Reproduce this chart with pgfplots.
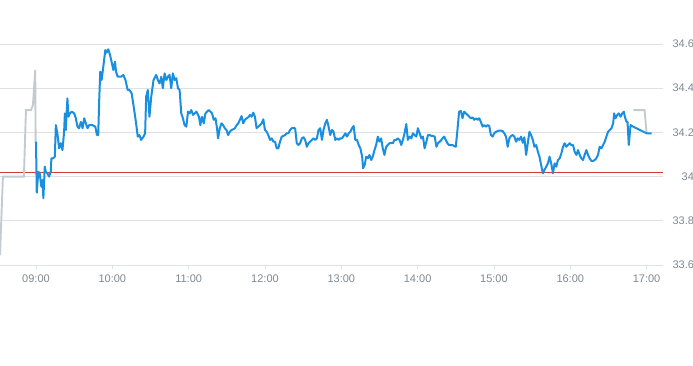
\documentclass[border=0pt]{standalone}
\usepackage{fontspec}
\setmainfont{Liberation Sans}
\usepackage{pgfplots}
\pgfplotsset{compat=1.18}
\definecolor{lineblue}{HTML}{1A8FE0}
\definecolor{linegray}{HTML}{C3CBD0}
\definecolor{refred}{HTML}{D63B3B}
\definecolor{gridc}{HTML}{DDE1E5}
\definecolor{labc}{HTML}{7F8891}
\begin{document}
\begin{tikzpicture}
\useasboundingbox (0pt,-100pt) rectangle (693pt,265pt);
\begin{axis}[
  at={(0pt,0pt)}, anchor=south west,
  scale only axis, width=663pt, height=221pt,
  xmin=-28.3, xmax=492.9, ymin=33.6, ymax=34.6,
  xtick={0,60,120,180,240,300,360,420,480},
  xticklabels={09:00,10:00,11:00,12:00,13:00,14:00,15:00,16:00,17:00},
  ytick={33.6,33.8,34,34.2,34.4,34.6},
  yticklabels={33.6,33.8,34,34.2,34.4,34.6},
  yticklabel pos=right,
  xtick pos=bottom,
  ymajorgrids, grid style={gridc, line width=0.8pt},
  axis line style={draw=none},
  tick align=outside, major tick length=3.5pt,
  xtick style={gridc, line width=0.8pt},
  ytick style={draw=none},
  /pgf/number format/assume math mode=true,
  tick label style={font=\fontsize{11}{13}\selectfont, text=labc},
  xticklabel style={yshift=-3pt},
  yticklabel style={anchor=east, xshift=31pt},
  clip=false,
]
\addplot[refred, line width=0.9pt] coordinates {(-28.3,34.02) (492.9,34.02)};
\addplot[linegray, line width=1.9pt] coordinates {
(-28.3,33.645) (-26.0,34.0) (-9.5,34.0) (-7.9,34.301) (-3.9,34.301) (-2.4,34.324) (-0.6,34.482) (-0.3,34.158) (0,34.158)
};
\addplot[linegray, line width=1.9pt] coordinates {
(469.7,34.301) (478.4,34.301) (480.0,34.197)
};
\addplot[lineblue, line width=2pt, line join=round] coordinates {
(0,34.158) (0.6,33.927) (1.8,34.022) (2.9,34.015) (4.2,33.954) (5.0,33.985) (5.8,33.902) (6.9,34.045) (7.7,34.022) (8.9,34.015)
(10.3,34.000) (11.6,34.022) (12.1,34.083) (13.4,34.083) (14.8,34.090) (15.6,34.233) (16.8,34.196) (18.2,34.128) (19.5,34.151) (20.8,34.120)
(22.1,34.203) (22.7,34.286) (23.4,34.211) (24.7,34.354) (25.5,34.271) (26.6,34.286) (28.2,34.294) (30.0,34.286) (31.3,34.264) (32.6,34.226)
(33.9,34.219) (35.3,34.248) (36.6,34.219) (37.9,34.264) (39.2,34.241) (40.5,34.219) (41.8,34.233) (44.4,34.233) (46.6,34.226) (47.9,34.188)
(48.9,34.188) (49.7,34.347) (50.5,34.475) (51.6,34.437) (52.9,34.497) (54.5,34.573) (55.5,34.561) (56.8,34.576) (58.2,34.550) (59.4,34.520)
(60.8,34.482) (62.1,34.520) (62.9,34.475) (64.2,34.452) (66.9,34.452) (68.7,34.460) (70.3,34.437) (72.1,34.392) (73.4,34.392) (75.2,34.377)
(76.8,34.316) (78.7,34.241) (80.0,34.181) (81.3,34.188) (82.6,34.166) (84.5,34.181) (85.8,34.196) (86.6,34.362) (87.9,34.392) (89.2,34.271)
(90.6,34.362) (92.4,34.437) (94.5,34.460) (95.8,34.437) (97.1,34.422) (98.5,34.452) (99.7,34.400) (101.1,34.467) (102.4,34.437) (103.7,34.452)
(105.0,34.460) (106.3,34.400) (107.6,34.467) (109.0,34.437) (110.3,34.445) (111.6,34.400) (112.9,34.392) (114.2,34.286) (115.5,34.264) (116.8,34.233)
(118.2,34.226) (119.5,34.294) (120.8,34.286) (122.1,34.301) (123.4,34.279) (124.7,34.286) (126.1,34.294) (128.1,34.271) (129.2,34.233) (130.5,34.271)
(131.9,34.241) (133.2,34.286) (134.4,34.294) (135.8,34.301) (137.1,34.294) (138.4,34.286) (139.7,34.257) (141.1,34.264) (142.3,34.219) (143.1,34.173)
(144.5,34.219) (145.8,34.241) (147.1,34.233) (148.4,34.219) (149.8,34.211) (151.0,34.188) (152.4,34.203) (153.7,34.211) (155.0,34.214) (156.4,34.219)
(157.7,34.233) (159.0,34.241) (160.3,34.257) (161.6,34.274) (162.9,34.241) (164.2,34.257) (165.6,34.264) (166.8,34.268) (168.2,34.279) (169.5,34.271)
(170.8,34.289) (172.1,34.271) (173.4,34.219) (174.7,34.226) (176.1,34.233) (177.4,34.241) (178.7,34.259) (180.0,34.211) (181.3,34.203) (182.6,34.188)
(184.0,34.166) (185.3,34.173) (186.6,34.158) (187.9,34.158) (189.2,34.128) (190.5,34.128) (191.8,34.158) (193.2,34.181) (194.4,34.184) (195.8,34.188)
(197.1,34.196) (198.4,34.196) (199.7,34.211) (201.1,34.219) (202.3,34.219) (203.7,34.219) (205.0,34.151) (206.3,34.143) (207.6,34.151) (209.0,34.173)
(210.3,34.178) (211.6,34.166) (212.9,34.135) (214.2,34.151) (215.5,34.158) (216.8,34.166) (218.1,34.173) (219.5,34.166) (220.8,34.173) (222.1,34.211)
(223.4,34.219) (224.8,34.166) (226.0,34.211) (227.4,34.241) (228.7,34.257) (230.0,34.226) (231.3,34.188) (232.7,34.211) (233.9,34.203) (235.3,34.166)
(236.6,34.173) (237.9,34.166) (239.2,34.173) (240.6,34.173) (241.8,34.184) (243.2,34.196) (244.5,34.181) (245.8,34.196) (247.1,34.203) (248.5,34.219)
(249.7,34.229) (251.0,34.166) (252.4,34.166) (253.7,34.143) (255.0,34.128) (256.4,34.090) (257.1,34.038) (258.4,34.052) (259.5,34.090) (260.8,34.083)
(262.1,34.098) (263.5,34.075) (264.7,34.090) (266.1,34.120) (267.4,34.143) (268.7,34.181) (270.0,34.158) (271.3,34.173) (272.6,34.128) (273.9,34.098)
(275.3,34.135) (276.5,34.143) (277.9,34.151) (279.2,34.151) (280.5,34.151) (281.8,34.166) (283.2,34.166) (284.4,34.173) (285.8,34.166) (287.1,34.143)
(288.4,34.166) (289.7,34.196) (291.1,34.238) (292.3,34.166) (293.7,34.181) (295.0,34.173) (296.3,34.196) (297.6,34.188) (299.0,34.181) (300.2,34.219)
(301.6,34.196) (302.9,34.173) (304.2,34.181) (305.5,34.128) (306.9,34.158) (308.1,34.188) (309.5,34.188) (310.8,34.184) (312.1,34.184) (313.4,34.181)
(314.8,34.135) (316.0,34.151) (317.4,34.158) (318.7,34.166) (319.5,34.173) (320.8,34.181) (322.1,34.166) (323.4,34.151) (324.7,34.143) (326.1,34.143)
(327.4,34.143) (328.7,34.138) (330.0,34.135) (331.3,34.211) (332.6,34.294) (334.0,34.297) (335.3,34.264) (336.6,34.294) (337.9,34.286) (339.3,34.279)
(340.5,34.271) (341.8,34.264) (343.2,34.268) (344.5,34.257) (345.8,34.264) (347.1,34.257) (348.4,34.264) (349.7,34.248) (351.1,34.226) (352.4,34.233)
(353.7,34.226) (355.0,34.233) (356.3,34.229) (357.6,34.188) (359.0,34.181) (360.2,34.196) (361.6,34.203) (362.9,34.206) (364.2,34.208) (365.5,34.208)
(366.8,34.206) (368.1,34.196) (369.5,34.181) (370.8,34.135) (372.1,34.173) (373.4,34.184) (374.8,34.188) (376.0,34.181) (377.4,34.158) (378.7,34.173)
(380.0,34.166) (381.3,34.181) (382.7,34.153) (383.9,34.178) (385.3,34.098) (386.6,34.151) (387.9,34.203) (389.2,34.188) (390.6,34.166) (391.8,34.135)
(393.2,34.143) (394.5,34.113) (395.8,34.090) (397.1,34.052) (398.5,34.015) (399.7,34.030) (401.1,34.045) (402.4,34.060) (403.7,34.090) (405.0,34.060)
(406.4,34.015) (407.7,34.060) (409.0,34.045) (410.3,34.075) (411.7,34.083) (413.0,34.105) (414.3,34.135) (415.6,34.151) (416.9,34.135) (418.2,34.143)
(419.5,34.151) (420.8,34.143) (422.2,34.143) (423.4,34.113) (424.8,34.098) (426.1,34.120) (427.4,34.098) (428.7,34.083) (430.0,34.075) (431.3,34.098)
(432.6,34.120) (434.0,34.098) (435.2,34.083) (436.6,34.071) (437.9,34.071) (439.2,34.075) (440.5,34.083) (441.8,34.098) (443.1,34.135) (444.5,34.128)
(445.8,34.143) (447.1,34.158) (448.4,34.181) (449.7,34.203) (451.0,34.211) (452.4,34.219) (453.7,34.241) (454.5,34.286) (455.5,34.264) (456.9,34.279)
(458.2,34.286) (459.5,34.271) (460.9,34.286) (462.1,34.294) (462.9,34.271) (464.2,34.248) (465.0,34.248) (466.0,34.143) (467.4,34.233) (469.5,34.226)
(480.0,34.196) (483.9,34.196)
};
\end{axis}
\end{tikzpicture}
\end{document}
